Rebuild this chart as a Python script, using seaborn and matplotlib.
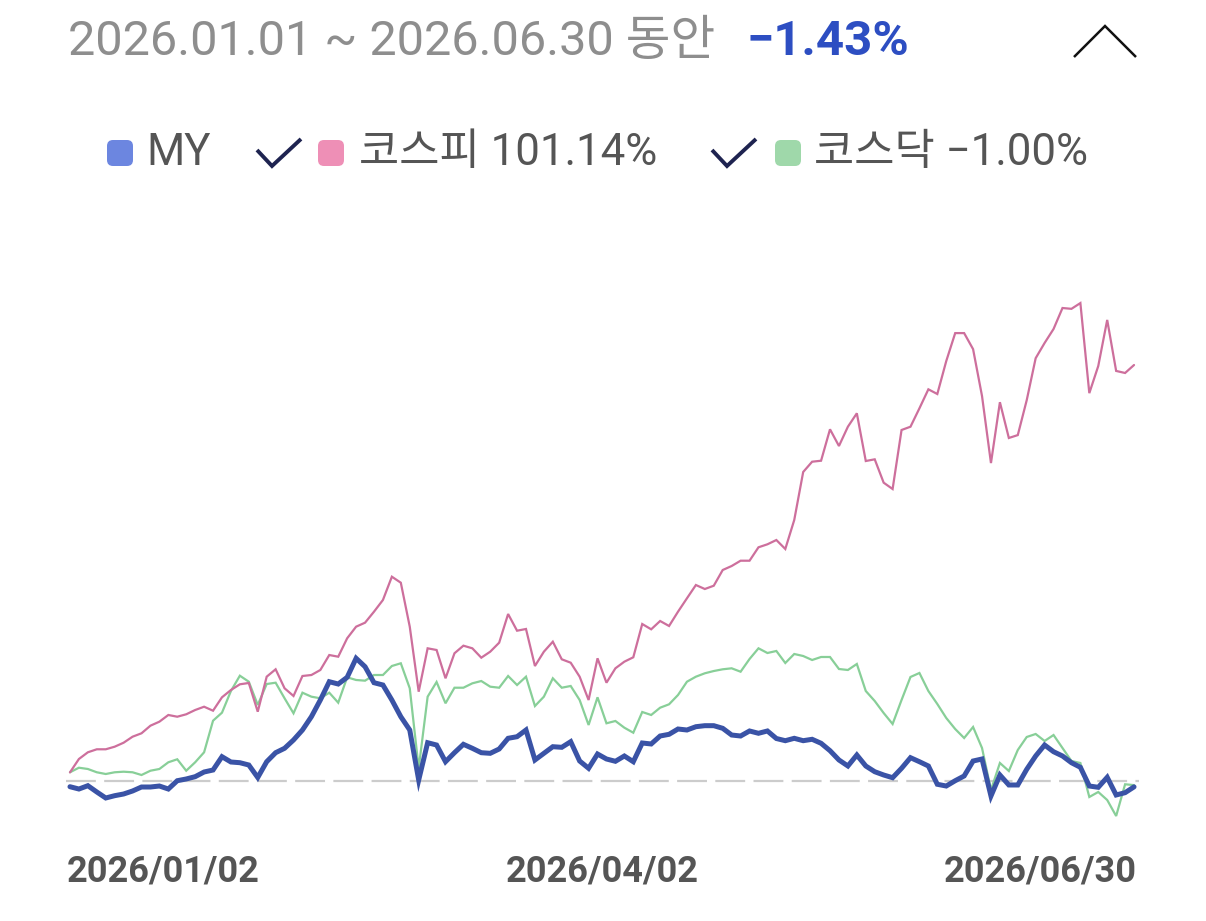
import numpy as np
import pandas as pd
import matplotlib
matplotlib.use("Agg")
import matplotlib.pyplot as plt
import matplotlib.transforms as mtrans
import seaborn as sns
from matplotlib.patches import FancyBboxPatch

# ---------------- data ----------------
period_label = "2026.01.01 ~ 2026.06.30 동안"
period_return = "\u22121.43%"
legend_labels = ["MY", "코스피 101.14%", "코스닥 \u22121.00%"]
tick_labels = ["2026/01/02", "2026/04/02", "2026/06/30"]
tick_days = [0, 59.5, 119]

kospi_values = [
    2.1, 5.35, 6.98, 7.71, 7.71, 8.34, 9.31, 10.77, 11.6, 13.45,
    14.42, 16.05, 15.63, 16.22, 17.26, 18.06, 17.09, 20.35, 22.12, 23.51,
    23.83, 16.85, 25.36, 27.16, 22.54, 20.67, 25.53, 25.77, 26.99, 30.63,
    30.22, 34.7, 37.52, 38.49, 41.16, 44.01, 49.67, 48.21, 37.52, 21.71,
    32.26, 31.85, 24.97, 31.05, 32.9, 32.26, 29.98, 31.44, 33.63, 40.6,
    36.54, 36.96, 27.96, 31.44, 33.87, 29.59, 28.76, 25.36, 19.69, 29.83,
    23.9, 27.4, 29.01, 30.08, 38.17, 36.88, 38.9, 37.69, 41.16, 44.42,
    47.65, 46.68, 47.48, 51.3, 52.27, 53.56, 53.56, 56.82, 57.55, 58.59,
    56.41, 63.46, 75.13, 77.63, 77.87, 85.51, 81.45, 86.14, 89.4, 77.8,
    78.21, 72.53, 70.99, 85.34, 86.14, 90.61, 95.23, 94.09, 102.1, 108.9,
    108.9, 105.0, 93.6, 77.3, 92.1, 83.4, 84.1, 92.6, 102.8, 106.5,
    109.9, 115.0, 114.8, 116.2, 94.3, 100.9, 112.1, 99.7, 99.2, 101.14,
]

kosdaq_values = [
    2.12, 3.23, 2.92, 2.12, 1.7, 2.12, 2.26, 2.12, 1.46, 2.5,
    2.92, 4.55, 5.28, 2.5, 4.55, 6.98, 14.66, 16.61, 21.88, 25.6,
    24.14, 18.48, 23.58, 23.9, 20.11, 16.46, 21.47, 20.5, 20.11, 21.47,
    19.04, 25.21, 24.56, 24.39, 25.77, 25.77, 27.96, 28.62, 22.54, 3.09,
    20.5, 24.07, 18.89, 22.68, 22.68, 23.75, 24.31, 22.93, 22.68, 25.53,
    23.34, 25.36, 18.23, 20.5, 24.97, 22.68, 23.1, 19.69, 13.62, 20.35,
    14.03, 14.59, 12.96, 11.74, 16.78, 16.05, 17.82, 18.65, 20.91, 24.14,
    25.36, 26.19, 26.74, 27.16, 27.4, 26.57, 29.66, 32.26, 31.12, 31.61,
    28.69, 30.88, 30.39, 29.42, 30.15, 30.15, 27.23, 26.99, 28.45, 21.88,
    19.45, 16.53, 13.86, 19.69, 25.29, 26.26, 21.88, 18.72, 15.32, 12.64,
    10.45, 13.13, 8.02, -2.19, 4.38, 2.43, 7.54, 10.7, 11.43, 9.73,
    11.18, 8.02, 4.86, 4.38, -3.89, -2.67, -4.62, -8.51, -0.8, -1.0,
]

my_values = [
    -1.39, -1.95, -1.14, -2.67, -4.13, -3.57, -3.16, -2.43, -1.46, -1.46,
    -1.22, -1.95, 0.07, 0.49, 1.05, 2.19, 2.67, 5.91, 4.62, 4.45,
    3.89, 0.85, 4.69, 6.88, 7.95, 9.97, 12.4, 15.63, 19.69, 24.14,
    23.58, 25.21, 29.83, 27.79, 23.9, 23.34, 19.69, 15.63, 12.4, 0.24,
    9.31, 8.75, 4.69, 6.88, 8.92, 7.95, 6.88, 6.73, 7.78, 10.38,
    10.77, 12.4, 5.11, 6.73, 8.34, 8.19, 9.56, 4.86, 3.09, 6.56,
    5.35, 4.79, 6.08, 4.69, 9.24, 9.0, 10.94, 11.35, 12.64, 12.4,
    13.2, 13.45, 13.45, 12.81, 11.18, 10.94, 12.16, 11.6, 12.16, 10.33,
    9.8, 10.38, 9.8, 10.14, 9.17, 7.37, 5.11, 3.65, 6.32, 3.65,
    2.26, 1.46, 0.8, 3.09, 5.67, 4.69, 3.65, -0.8, -1.22, 0.07,
    1.22, 4.86, 5.35, -3.65, 1.46, -0.97, -0.97, 2.84, 6.08, 8.75,
    7.12, 6.08, 4.45, 3.33, -1.22, -1.53, 0.9, -3.4, -2.84, -1.43,
]

# ---------------- style ----------------
sns.set_theme(style="white")
plt.rcParams["font.family"] = ["Roboto", "Noto Sans CJK KR", "DejaVu Sans"]
plt.rcParams["lines.scale_dashes"] = False

C_MY = "#3A53A6"
C_KOSPI = "#CD6F9C"
C_KOSDAQ = "#88CF98"
C_MY_SW = "#6C86E0"
C_KOSPI_SW = "#EE8FB6"
C_KOSDAQ_SW = "#9FD8AA"
C_TEXT = "#555555"
C_TITLE = "#8E8E8E"
C_BLUE_TXT = "#2D4EC2"
C_CHECK = "#1E2350"

W, H = 1206, 921
fig = plt.figure(figsize=(W / 100, H / 100), dpi=100)
fig.patch.set_facecolor("white")

# main axes in pixel geometry
x_left_px, x_right_px = 65.5, 1138.5
ymin, ymax = -12.0, 125.0
px_per_pct = 4.113
zero_px = 781.0
top_px = zero_px - ymax * px_per_pct
bot_px = zero_px - ymin * px_per_pct
ax = fig.add_axes([x_left_px / W, (H - bot_px) / H,
                   (x_right_px - x_left_px) / W, (bot_px - top_px) / H])

days = np.arange(len(my_values))
df = pd.DataFrame({"day": days, "MY": my_values,
                   "KOSPI": kospi_values, "KOSDAQ": kosdaq_values})

ax.axhline(0, color="#CCCCCC", lw=1.6, dashes=(21.5, 6.0), zorder=1)
sns.lineplot(data=df, x="day", y="KOSDAQ", ax=ax, color=C_KOSDAQ, lw=1.6,
             zorder=2, solid_joinstyle="miter")
sns.lineplot(data=df, x="day", y="KOSPI", ax=ax, color=C_KOSPI, lw=1.6,
             zorder=3, solid_joinstyle="miter")
sns.lineplot(data=df, x="day", y="MY", ax=ax, color=C_MY, lw=3.6,
             zorder=4, solid_joinstyle="miter")

ax.set_xlim(-0.5, 119.5)
ax.set_ylim(ymin, ymax)
ax.set_xlabel("")
ax.set_ylabel("")
ax.set_yticks([])
for s in ax.spines.values():
    s.set_visible(False)
ax.set_xticks(tick_days)
ax.set_xticklabels(tick_labels, fontsize=26, fontweight="bold", color=C_TEXT)
ax.tick_params(axis="x", length=0, pad=17)
tl = ax.get_xticklabels()
tl[0].set_ha("left")
tl[1].set_ha("center")
tl[2].set_ha("right")
tl[0].set_transform(tl[0].get_transform() + mtrans.ScaledTranslation(-3 / 100, 0, fig.dpi_scale_trans))
tl[2].set_transform(tl[2].get_transform() + mtrans.ScaledTranslation(3 / 100, 0, fig.dpi_scale_trans))
ax.set_facecolor("white")

# overlay axes for header & legend (pixel coordinates)
ov = fig.add_axes([0, 0, 1, 1], zorder=10)
ov.set_xlim(0, W)
ov.set_ylim(H, 0)
ov.axis("off")
ov.patch.set_alpha(0)

ov.text(68, 42, period_label, fontsize=35, color=C_TITLE, ha="left", va="center")
ov.text(746, 42, period_return, fontsize=35.5, color=C_BLUE_TXT, ha="left",
        va="center", fontweight="bold")

# chevron
ov.plot([1074, 1105, 1136], [57, 26, 57], color="#111111", lw=1.8,
        solid_joinstyle="miter", solid_capstyle="butt")

# legend
ly = 153
swatches = [(107, C_MY_SW), (318, C_KOSPI_SW), (775, C_KOSDAQ_SW)]
text_x = [146, 359, 814]
for (sx, col), tx, lab in zip(swatches, text_x, legend_labels):
    ov.add_patch(FancyBboxPatch((sx + 4, ly - 9), 18, 18,
                                boxstyle="round,pad=4,rounding_size=6",
                                fc=col, ec="none"))
    ov.text(tx, ly, lab, fontsize=31.5, color=C_TEXT, ha="left", va="center")

for cx in (255, 710):
    ov.plot([cx + 2, cx + 17, cx + 46], [150, 166, 139], color=C_CHECK, lw=2.8,
            solid_joinstyle="miter", solid_capstyle="butt")

fig.savefig("out.png", dpi=100, facecolor="white")
